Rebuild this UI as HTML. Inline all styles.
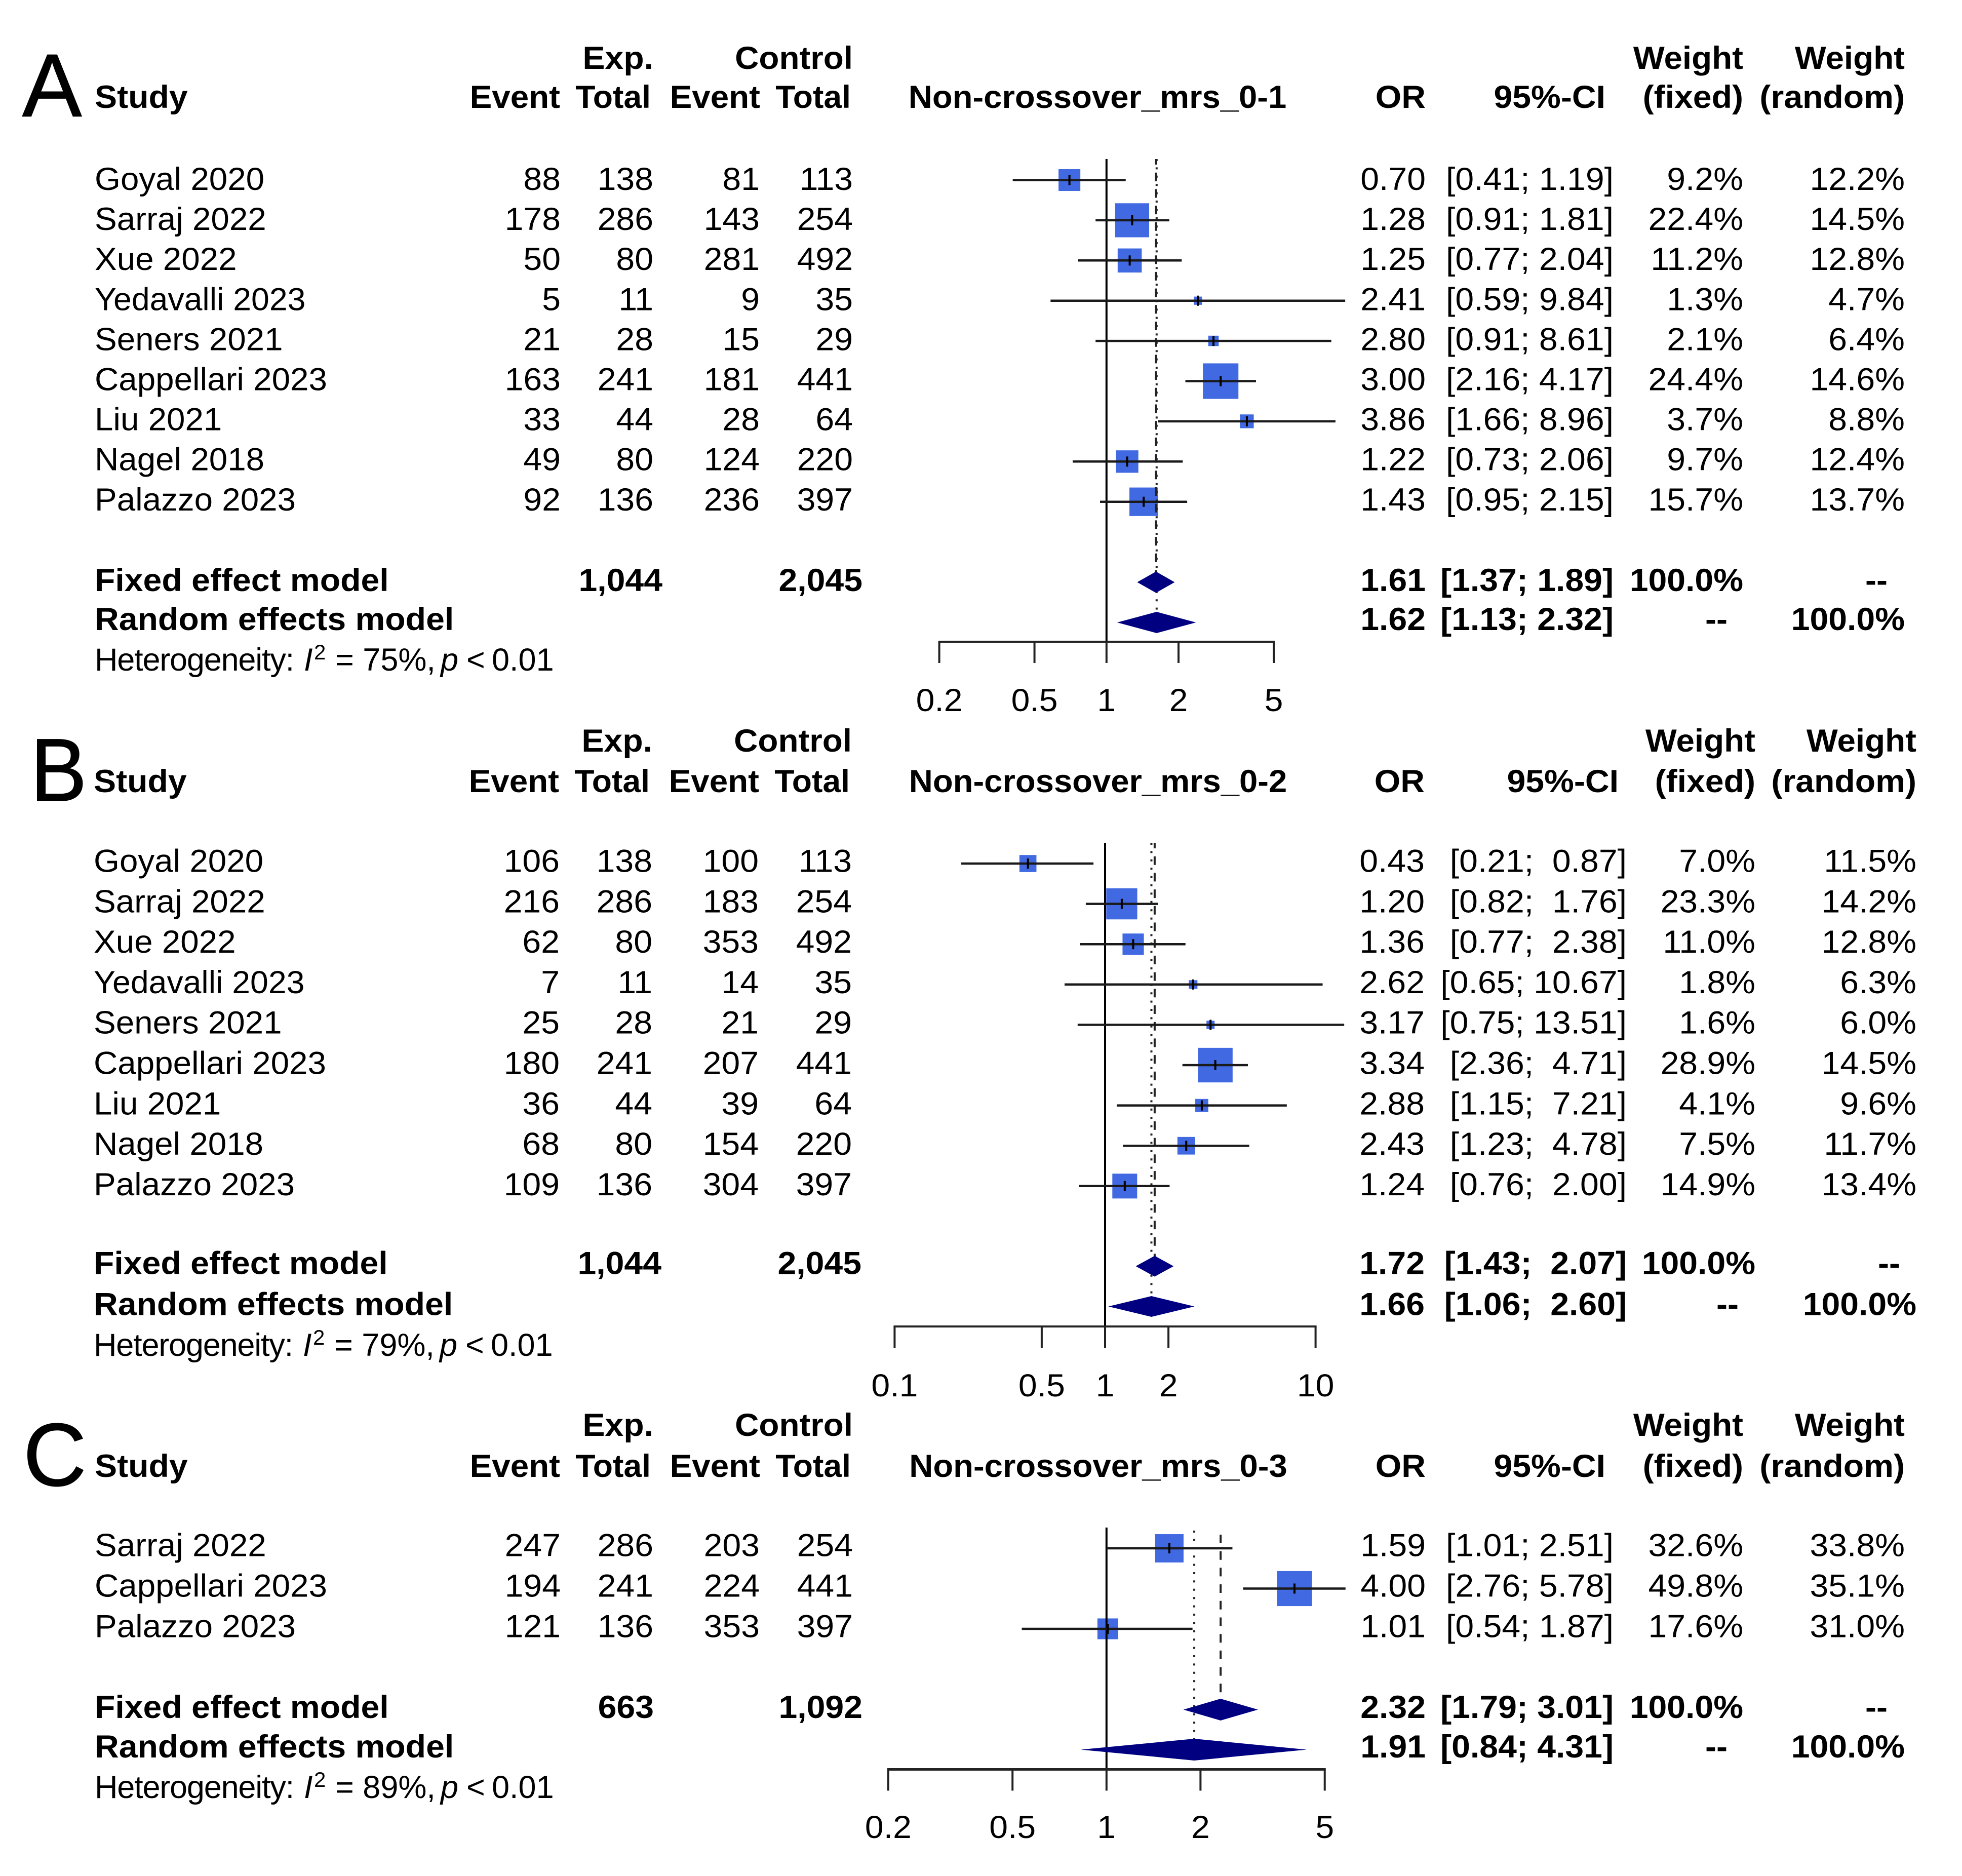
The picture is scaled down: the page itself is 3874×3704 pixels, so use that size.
<!DOCTYPE html>
<html lang="en">
<head>
<meta charset="utf-8">
<title>Forest plots: Non-crossover mRS outcomes</title>
<style>
html,body{margin:0;padding:0;background:#fff;}
svg{display:block;}
text{font-family:"Liberation Sans",sans-serif;fill:#000;white-space:pre;}
</style>
</head>
<body>
<svg id="forest-figure" xmlns="http://www.w3.org/2000/svg" width="3874" height="3704" viewBox="0 0 3874 3704">
<rect width="3874" height="3704" fill="#ffffff"/>
</svg>
<script>
/* ---------- Panel A data ---------- */
const aStudies = ["Goyal 2020","Sarraj 2022","Xue 2022","Yedavalli 2023","Seners 2021","Cappellari 2023","Liu 2021","Nagel 2018","Palazzo 2023"];
const aExpEvent = [88,178,50,5,21,163,33,49,92];
const aExpTotal = [138,286,80,11,28,241,44,80,136];
const aCtlEvent = [81,143,281,9,15,181,28,124,236];
const aCtlTotal = [113,254,492,35,29,441,64,220,397];
const aOR = [0.70,1.28,1.25,2.41,2.80,3.00,3.86,1.22,1.43];
const aLower = [0.41,0.91,0.77,0.59,0.91,2.16,1.66,0.73,0.95];
const aUpper = [1.19,1.81,2.04,9.84,8.61,4.17,8.96,2.06,2.15];
const aWeightFixed = [9.2,22.4,11.2,1.3,2.1,24.4,3.7,9.7,15.7];
const aWeightRandom = [12.2,14.5,12.8,4.7,6.4,14.6,8.8,12.4,13.7];
const aFixedEffect = [1.61,1.37,1.89];
const aRandomEffect = [1.62,1.13,2.32];
const aTotals = ["1,044","2,045"];
const aTicks = [0.2,0.5,1,2,5];
const aTickLabels = ["0.2","0.5","1","2","5"];

/* ---------- Panel B data ---------- */
const bStudies = ["Goyal 2020","Sarraj 2022","Xue 2022","Yedavalli 2023","Seners 2021","Cappellari 2023","Liu 2021","Nagel 2018","Palazzo 2023"];
const bExpEvent = [106,216,62,7,25,180,36,68,109];
const bExpTotal = [138,286,80,11,28,241,44,80,136];
const bCtlEvent = [100,183,353,14,21,207,39,154,304];
const bCtlTotal = [113,254,492,35,29,441,64,220,397];
const bOR = [0.43,1.20,1.36,2.62,3.17,3.34,2.88,2.43,1.24];
const bLower = [0.21,0.82,0.77,0.65,0.75,2.36,1.15,1.23,0.76];
const bUpper = [0.87,1.76,2.38,10.67,13.51,4.71,7.21,4.78,2.00];
const bWeightFixed = [7.0,23.3,11.0,1.8,1.6,28.9,4.1,7.5,14.9];
const bWeightRandom = [11.5,14.2,12.8,6.3,6.0,14.5,9.6,11.7,13.4];
const bFixedEffect = [1.72,1.43,2.07];
const bRandomEffect = [1.66,1.06,2.60];
const bTotals = ["1,044","2,045"];
const bTicks = [0.1,0.5,1,2,10];
const bTickLabels = ["0.1","0.5","1","2","10"];

/* ---------- Panel C data ---------- */
const cStudies = ["Sarraj 2022","Cappellari 2023","Palazzo 2023"];
const cExpEvent = [247,194,121];
const cExpTotal = [286,241,136];
const cCtlEvent = [203,224,353];
const cCtlTotal = [254,441,397];
const cOR = [1.59,4.00,1.01];
const cLower = [1.01,2.76,0.54];
const cUpper = [2.51,5.78,1.87];
const cWeightFixed = [32.6,49.8,17.6];
const cWeightRandom = [33.8,35.1,31.0];
const cFixedEffect = [2.32,1.79,3.01];
const cRandomEffect = [1.91,0.84,4.31];
const cTotals = ["663","1,092"];
const cTicks = [0.2,0.5,1,2,5];
const cTickLabels = ["0.2","0.5","1","2","5"];

const NS = "http://www.w3.org/2000/svg";
const svg = document.getElementById("forest-figure");
const FONT = 63, SX = 1.05;

function shape(tag, attrs, name) {
  const el = document.createElementNS(NS, tag);
  for (const k in attrs) el.setAttribute(k, attrs[k]);
  
  
  svg.appendChild(el);
  return el;
}
function label(str, x, y, anchor, bold, name, size, sx) {
  const el = document.createElementNS(NS, "text");
  el.setAttribute("transform", "translate(" + x + " " + y + ") scale(" + (sx || SX) + " 1)");
  el.setAttribute("text-anchor", anchor);
  el.setAttribute("font-size", size || FONT);
  if (bold) el.setAttribute("font-weight", "bold");
  el.textContent = str;
  
  
  svg.appendChild(el);
  return el;
}
function pct(v) { return v.toFixed(1) + "%"; }
function ciText(lo, hi, pad) {
  let u = hi.toFixed(2);
  if (pad && u.length < 5) u = " " + u;
  return "[" + lo.toFixed(2) + "; " + u + "]";
}

function drawPanel(p) {
  const xs = v => p.x1 + p.decade * Math.log10(v);
  const rowY = i => p.markY0 + p.markStep * i;
  const textY = i => p.textY0 + p.textStep * i;
  const n = p.studies.length;
  const id = p.letter.toLowerCase();

  const letterEl = label(p.letter, p.letterX, p.letterY, "start", false, "panel-label-" + id, 176, p.letterSx);
  letterEl.setAttribute("stroke", "#000");
  letterEl.setAttribute("stroke-width", "1.5");

  /* headers */
  label("Exp.", p.cols[1], p.headY1, "end", true, "exp-group-header", FONT);
  label("Control", p.cols[3], p.headY1, "end", true, "control-group-header", FONT, 1.04);
  label("Weight", p.wf, p.headY1, "end", true, "weight-fixed-header", FONT, 1.04);
  label("Weight", p.wr, p.headY1, "end", true, "weight-random-header", FONT, 1.04);
  label("Study", p.left, p.headY2, "start", true, "study-header", FONT);
  label("Event", p.cols[0] - 1, p.headY2, "end", true, "exp-event-header", FONT, 1.04);
  label("Total", p.cols[1] - 5, p.headY2, "end", true, "exp-total-header", FONT, 1.02);
  label("Event", p.cols[2] + 1, p.headY2, "end", true, "control-event-header", FONT, 1.04);
  label("Total", p.cols[3] - 4, p.headY2, "end", true, "control-total-header", FONT, 1.02);
  label(p.title, p.titleX, p.headY2, "middle", true, "plot-title", FONT, 1.035);
  label("OR", p.orX, p.headY2, "end", true, "or-header", FONT);
  label("95%-CI", p.ciHeadX, p.headY2, "end", true, "ci-header", FONT);
  label("(fixed)", p.wf, p.headY2, "end", true, "weight-fixed-subheader", FONT);
  label("(random)", p.wr, p.headY2, "end", true, "weight-random-subheader", FONT);

  /* study rows */
  for (let i = 0; i < n; i++) {
    const y = textY(i);
    const nameScale = p.studies[i].startsWith("Yedavalli") ? 1.022 : 1.04;
    label(p.studies[i], p.left, y, "start", false, "study-name", FONT, nameScale);
    label(String(p.expEvent[i]), p.cols[0], y, "end", false, "exp-event-value", FONT);
    label(String(p.expTotal[i]), p.cols[1], y, "end", false, "exp-total-value", FONT);
    label(String(p.ctlEvent[i]), p.cols[2], y, "end", false, "control-event-value", FONT);
    label(String(p.ctlTotal[i]), p.cols[3], y, "end", false, "control-total-value", FONT);
    label(p.or[i].toFixed(2), p.orX, y, "end", false, "or-value", FONT);
    label(ciText(p.lower[i], p.upper[i], p.padCI), p.ciX, y, "end", false, "ci-value", FONT);
    label(pct(p.wFixed[i]), p.wf, y, "end", false, "weight-fixed-value", FONT);
    label(pct(p.wRandom[i]), p.wr, y, "end", false, "weight-random-value", FONT);
  }

  /* summary rows */
  label("Fixed effect model", p.left, p.fixTextY, "start", true, "fixed-effect-label", FONT);
  label(p.totals[0], p.sumCols[0], p.fixTextY, "end", true, "exp-grand-total", FONT);
  label(p.totals[1], p.sumCols[1], p.fixTextY, "end", true, "control-grand-total", FONT);
  label(p.fixed[0].toFixed(2), p.orX, p.fixTextY, "end", true, "fixed-or-value", FONT);
  label(ciText(p.fixed[1], p.fixed[2], p.padCI), p.ciX, p.fixTextY, "end", true, "fixed-ci-value", FONT);
  label("100.0%", p.wf, p.fixTextY, "end", true, "fixed-weight-total", FONT);
  label("--", p.dashR, p.fixTextY, "end", true, "fixed-weight-random-empty", FONT);

  label("Random effects model", p.left, p.randTextY, "start", true, "random-effects-label", FONT);
  label(p.random[0].toFixed(2), p.orX, p.randTextY, "end", true, "random-or-value", FONT);
  label(ciText(p.random[1], p.random[2], p.padCI), p.ciX, p.randTextY, "end", true, "random-ci-value", FONT);
  label("--", p.dashF, p.randTextY, "end", true, "random-weight-fixed-empty", FONT);
  label("100.0%", p.wr, p.randTextY, "end", true, "random-weight-total", FONT);

  const het = label("", p.left, p.hetY, "start", false, "heterogeneity-statement", FONT, 1);
  het.innerHTML = '<tspan letter-spacing="-1.2">Heterogeneity:</tspan><tspan x="413" font-style="italic">I</tspan><tspan x="433" dy="-22" font-size="42">2</tspan><tspan x="475" dy="22">= ' + p.i2 + '%,</tspan><tspan x="683" font-style="italic">p</tspan><tspan x="734">&lt;</tspan><tspan x="784">0.01</tspan>';

  /* squares */
  for (let i = 0; i < n; i++) {
    const s = p.sqK * Math.sqrt(p.wFixed[i]);
    shape("rect", {x: xs(p.or[i]) - s / 2, y: rowY(i) - s / 2, width: s, height: s, fill: "#4169e1"}, "study-square");
  }
  /* reference and pooled lines */
  shape("line", {x1: xs(1), x2: xs(1), y1: p.refTop, y2: p.axisY, stroke: "#000", "stroke-width": 4}, "null-effect-line");
  shape("line", {x1: xs(p.fixed[0]), x2: xs(p.fixed[0]), y1: p.dashTop, y2: p.fixY - 18, stroke: "#222", "stroke-width": 4, "stroke-dasharray": "17 15.7", "stroke-dashoffset": p.dashOffset}, "fixed-effect-line");
  shape("line", {x1: xs(p.random[0]), x2: xs(p.random[0]), y1: p.dotTop, y2: p.randY - 18, stroke: "#222", "stroke-width": 4, "stroke-dasharray": "4 12.4"}, "random-effect-line");

  /* CIs */
  for (let i = 0; i < n; i++) {
    const y = rowY(i), x = xs(p.or[i]);
    shape("line", {x1: xs(p.lower[i]), x2: xs(p.upper[i]), y1: y, y2: y, stroke: "#1a1a1a", "stroke-width": 4.5, "stroke-linecap": "square"}, "study-ci-line");
    shape("line", {x1: x, x2: x, y1: y - 10, y2: y + 10, stroke: "#000", "stroke-width": 4}, "study-or-tick");
  }

  /* diamonds */
  const dia = (e, y, name) => shape("polygon", {
    points: [[xs(e[1]) - 4, y], [xs(e[0]), y - p.diaH], [xs(e[2]) + 4, y], [xs(e[0]), y + p.diaH]].map(q => q.join(",")).join(" "),
    fill: "#000080"
  }, name);
  dia(p.fixed, p.fixY, "fixed-effect-diamond");
  dia(p.random, p.randY, "random-effects-diamond");

  /* axis */
  shape("line", {x1: xs(p.ticks[0]) - 2, x2: xs(p.ticks[p.ticks.length - 1]) + 2, y1: p.axisY, y2: p.axisY, stroke: "#222", "stroke-width": p.axisW}, "x-axis-line");
  p.ticks.forEach((t, i) => {
    shape("line", {x1: xs(t), x2: xs(t), y1: p.axisY, y2: p.axisY + 42, stroke: "#222", "stroke-width": 4}, "x-axis-tick");
    label(p.tickLabels[i], xs(t), p.tickY, "middle", false, "x-axis-tick-label", FONT);
  });
}

drawPanel({
  letter: "A", letterX: 44, letterY: 229.5, letterSx: 1.0, title: "Non-crossover_mrs_0-1", titleX: 2167,
  studies: aStudies, expEvent: aExpEvent, expTotal: aExpTotal, ctlEvent: aCtlEvent, ctlTotal: aCtlTotal,
  or: aOR, lower: aLower, upper: aUpper, wFixed: aWeightFixed, wRandom: aWeightRandom,
  fixed: aFixedEffect, random: aRandomEffect, totals: aTotals, ticks: aTicks, tickLabels: aTickLabels, i2: 75,
  x1: 2184.8, decade: 472.4, markY0: 355.5, markStep: 79.4, textY0: 375, textStep: 79.1, headY1: 136, headY2: 213,
  left: 187, cols: [1107, 1290, 1500, 1684], sumCols: [1308, 1703],
  orX: 2815, ciX: 3186, ciHeadX: 3170, wf: 3442, wr: 3761, dashR: 3727, dashF: 3411, padCI: false,
  fixTextY: 1167, randTextY: 1244, hetY: 1324, fixY: 1149.5, randY: 1229, diaH: 21,
  refTop: 314, dashTop: 314, dashOffset: 6, dotTop: 314, axisY: 1267, axisW: 4, tickY: 1404, sqK: 14.2
});
drawPanel({
  letter: "B", letterX: 60, letterY: 1581, letterSx: 0.95, title: "Non-crossover_mrs_0-2", titleX: 2168,
  studies: bStudies, expEvent: bExpEvent, expTotal: bExpTotal, ctlEvent: bCtlEvent, ctlTotal: bCtlTotal,
  or: bOR, lower: bLower, upper: bUpper, wFixed: bWeightFixed, wRandom: bWeightRandom,
  fixed: bFixedEffect, random: bRandomEffect, totals: bTotals, ticks: bTicks, tickLabels: bTickLabels, i2: 79,
  x1: 2182, decade: 415.6, markY0: 1705, markStep: 79.6, textY0: 1721.5, textStep: 79.8, headY1: 1484, headY2: 1564,
  left: 185, cols: [1105, 1288, 1498, 1682], sumCols: [1306, 1701],
  orX: 2813, ciX: 3212, ciHeadX: 3196, wf: 3466, wr: 3784, dashR: 3752, dashF: 3433, padCI: true,
  fixTextY: 2515.5, randTextY: 2596.5, hetY: 2677, fixY: 2500, randY: 2579.5, diaH: 20.5,
  refTop: 1664, dashTop: 1664, dashOffset: 6, dotTop: 1664, axisY: 2619, axisW: 4, tickY: 2757, sqK: 12.7
});
drawPanel({
  letter: "C", letterX: 46, letterY: 2933, letterSx: 0.98, title: "Non-crossover_mrs_0-3", titleX: 2168.5,
  studies: cStudies, expEvent: cExpEvent, expTotal: cExpTotal, ctlEvent: cCtlEvent, ctlTotal: cCtlTotal,
  or: cOR, lower: cLower, upper: cUpper, wFixed: cWeightFixed, wRandom: cWeightRandom,
  fixed: cFixedEffect, random: cRandomEffect, totals: cTotals, ticks: cTicks, tickLabels: cTickLabels, i2: 89,
  x1: 2184.8, decade: 616.5, markY0: 3057, markStep: 79.5, textY0: 3072.5, textStep: 80, headY1: 2835, headY2: 2916,
  left: 187, cols: [1107, 1290, 1500, 1684], sumCols: [1291, 1703],
  orX: 2815, ciX: 3186, ciHeadX: 3170, wf: 3442, wr: 3761, dashR: 3727, dashF: 3411, padCI: false,
  fixTextY: 3392, randTextY: 3470, hetY: 3550, fixY: 3375.5, randY: 3454.5, diaH: 21.5,
  refTop: 3016, dashTop: 3030, dashOffset: 0, dotTop: 3022, axisY: 3493.5, axisW: 5, tickY: 3629, sqK: 9.8
});
</script>
</body>
</html>
